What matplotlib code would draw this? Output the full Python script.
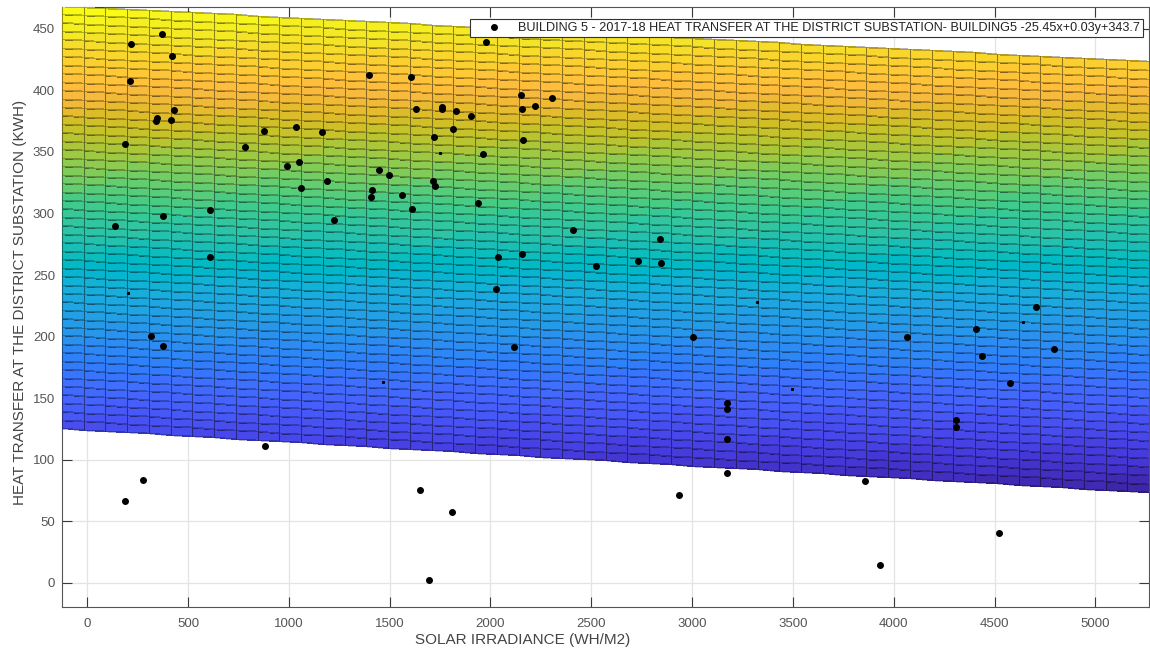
import numpy as np
import matplotlib
matplotlib.use("Agg")
import matplotlib.pyplot as plt
from matplotlib.colors import ListedColormap, Normalize
from matplotlib.lines import Line2D

# ---------------- data ----------------
solar = [217, 371, 419, 210, 430, 346, 342, 415, 188, 782, 877, 1035, 1163, 1048, 989,
         1187, 1060, 1397, 1447, 1496, 1414, 1407, 1225, 607, 376, 138, 607, 316, 377,
         187, 277, 880,
         1977, 1606, 2150, 2303, 1629, 1761, 1761, 1829, 2158, 2221, 1902, 1814, 1720,
         2160, 1964, 1713, 1725, 1559, 1940, 1609,
         2411, 2839, 2037, 2156, 2525, 2730, 2846, 2026, 3004, 2117, 3175, 3175, 3175, 3175,
         4707, 4408, 4064, 4436, 4793, 4578, 4309, 4309,
         1650, 1807, 1696, 2933, 3857, 3930, 4521]
heat = [437.7, 445.8, 428.0, 407.4, 384.3, 377.9, 375.1, 375.7, 356.7, 354.0, 366.8, 370.0,
        366.5, 341.8, 338.6, 326.6, 320.5, 412.8, 335.6, 331.3, 319.1, 313.6, 295.0, 303.1,
        297.7, 289.6, 264.6, 200.7, 192.6, 66.3, 83.7, 111.3,
        439.5, 411.2, 396.3, 394.2, 384.9, 386.3, 384.6, 383.5, 384.6, 387.1, 379.2, 368.6,
        362.4, 359.7, 348.1, 326.2, 322.3, 315.3, 308.3, 303.3,
        286.6, 279.3, 264.4, 266.8, 257.6, 261.6, 260.0, 238.4, 199.6, 191.8, 145.8, 141.4,
        116.8, 89.4,
        224.3, 206.1, 199.4, 184.5, 189.9, 162.5, 132.0, 126.8,
        75.3, 57.7, 2.2, 71.3, 82.6, 14.1, 40.4]
# points mostly hidden under the fitted surface (only a speck visible)
partial_solar = [200, 1749, 1465, 3497, 3322, 4641]
partial_heat = [235.6, 349.4, 162.8, 157.0, 228.1, 211.8]

# fitted surface band (edges as seen in the view)
band_x = [-125, 5266]
band_bottom = [125.5, 73.3]
band_top = [469.0, 423.6]
n_cols, n_rows = 50, 50

x_ticks = list(range(0, 5001, 500))
y_ticks = list(range(0, 451, 50))
legend_label = "BUILDING 5 - 2017-18 HEAT TRANSFER AT THE DISTRICT SUBSTATION- BUILDING5 -25.45x+0.03y+343.7"
xlabel = "SOLAR IRRADIANCE (WH/M2)"
ylabel = "HEAT TRANSFER AT THE DISTRICT SUBSTATION (KWH)"

parula_data = [
    [0.2422, 0.1504, 0.6603], [0.2504, 0.1650, 0.7076], [0.2578, 0.1818, 0.7511],
    [0.2647, 0.1978, 0.7952], [0.2706, 0.2147, 0.8364], [0.2751, 0.2342, 0.8710],
    [0.2783, 0.2559, 0.8991], [0.2803, 0.2782, 0.9221], [0.2813, 0.3006, 0.9414],
    [0.2810, 0.3228, 0.9579], [0.2795, 0.3447, 0.9717], [0.2760, 0.3667, 0.9829],
    [0.2699, 0.3892, 0.9906], [0.2602, 0.4123, 0.9952], [0.2440, 0.4358, 0.9988],
    [0.2206, 0.4603, 0.9973], [0.1963, 0.4847, 0.9892], [0.1834, 0.5074, 0.9798],
    [0.1786, 0.5289, 0.9682], [0.1764, 0.5499, 0.9520], [0.1687, 0.5703, 0.9359],
    [0.1540, 0.5902, 0.9218], [0.1460, 0.6091, 0.9079], [0.1380, 0.6276, 0.8973],
    [0.1248, 0.6459, 0.8883], [0.1113, 0.6635, 0.8763], [0.0952, 0.6798, 0.8598],
    [0.0689, 0.6948, 0.8394], [0.0297, 0.7082, 0.8163], [0.0036, 0.7203, 0.7917],
    [0.0067, 0.7312, 0.7660], [0.0433, 0.7411, 0.7394], [0.0964, 0.7500, 0.7120],
    [0.1408, 0.7584, 0.6842], [0.1717, 0.7670, 0.6554], [0.1938, 0.7758, 0.6251],
    [0.2161, 0.7843, 0.5923], [0.2470, 0.7918, 0.5567], [0.2906, 0.7973, 0.5188],
    [0.3406, 0.8008, 0.4789], [0.3909, 0.8029, 0.4354], [0.4456, 0.8024, 0.3909],
    [0.5044, 0.7993, 0.3480], [0.5616, 0.7942, 0.3045], [0.6174, 0.7876, 0.2612],
    [0.6720, 0.7793, 0.2227], [0.7242, 0.7698, 0.1910], [0.7738, 0.7598, 0.1646],
    [0.8203, 0.7498, 0.1535], [0.8634, 0.7406, 0.1596], [0.9035, 0.7330, 0.1774],
    [0.9393, 0.7288, 0.2100], [0.9728, 0.7298, 0.2394], [0.9956, 0.7434, 0.2371],
    [0.9970, 0.7659, 0.2199], [0.9952, 0.7893, 0.2028], [0.9892, 0.8136, 0.1885],
    [0.9786, 0.8386, 0.1766], [0.9676, 0.8639, 0.1643], [0.9610, 0.8890, 0.1537],
    [0.9597, 0.9135, 0.1423], [0.9628, 0.9373, 0.1265], [0.9691, 0.9606, 0.1064],
    [0.9769, 0.9839, 0.0805]]
parula = ListedColormap(parula_data, name="parula")

# ---------------- figure ----------------
plt.rcParams['font.family'] = ['Liberation Sans', 'DejaVu Sans']
W, H = 1150, 655
fig = plt.figure(figsize=(W / 100, H / 100), dpi=100)
ax_l, ax_r, ax_t, ax_b = 62, 1149, 6.5, 606.7
ax = fig.add_axes([ax_l / W, 1 - ax_b / H, (ax_r - ax_l) / W, (ax_b - ax_t) / H])

ax.set_xlim(band_x[0], band_x[1])
ax.set_ylim(-19.5, 468.2)

# surface mesh
xe = np.linspace(band_x[0], band_x[1], n_cols + 1)
bot = np.interp(xe, band_x, band_bottom)
top = np.interp(xe, band_x, band_top)
t = np.linspace(0, 1, n_rows + 1)
X = np.tile(xe, (n_rows + 1, 1))
Y = bot[None, :] + t[:, None] * (top - bot)[None, :]
C = 0.25 * (Y[:-1, :-1] + Y[1:, :-1] + Y[:-1, 1:] + Y[1:, 1:])
ax.pcolormesh(X, Y, C, cmap=parula, norm=Normalize(vmin=73, vmax=469),
              edgecolors=(0, 0, 0, 0.28), linewidth=0.55, zorder=1, shading='flat')
# slightly darker vertical mesh lines, as in the reference
for i in range(n_cols + 1):
    ax.plot([xe[i], xe[i]], [bot[i], top[i]], color=(0, 0, 0, 0.22), linewidth=0.8,
            zorder=1.5)

# scatter points
ax.plot(solar, heat, linestyle='none', marker='o', markersize=4.0,
        color='black', zorder=3)
ax.plot(partial_solar, partial_heat, linestyle='none', marker='s', markersize=1.2,
        color='black', zorder=3)

# axes styling
ax.set_xticks(x_ticks)
ax.set_yticks(y_ticks)
ax.set_axisbelow(True)
ax.grid(True, color='#e3e3e3', linewidth=0.9)
ax.tick_params(direction='in', length=7, width=0.8, colors='#3a3a3a',
               labelcolor='#555555', labelsize=9.5, top=True, right=True)
ax.tick_params(axis='x', pad=8)
ax.tick_params(axis='y', pad=5)
for s in ax.spines.values():
    s.set_color('#555555')
    s.set_linewidth(0.8)
    s.set_zorder(0.6)

ax.set_xlabel(xlabel, fontsize=11, color='#444444')
ax.set_ylabel(ylabel, fontsize=11, color='#444444')
ax.xaxis.set_label_coords((523 - ax_l) / (ax_r - ax_l), -(640 - ax_b) / (ax_b - ax_t))
ax.xaxis.label.set_va('center')
ax.yaxis.set_label_coords((20 - ax_l) / (ax_r - ax_l), (ax_b - 302) / (ax_b - ax_t))
ax.yaxis.label.set_va('center')

handle = Line2D([], [], linestyle='none', marker='o', markersize=4.0, color='black')
leg = ax.legend([handle], [legend_label], loc='upper right',
                bbox_to_anchor=(1143 / W, 1 - 19 / H), bbox_transform=fig.transFigure,
                fontsize=9.05, frameon=True, fancybox=False, framealpha=1,
                edgecolor='#333333', borderpad=0.25, handlelength=3.3,
                handletextpad=0.25, borderaxespad=0)
leg.get_frame().set_linewidth(0.8)
for txt in leg.get_texts():
    txt.set_color('#222222')
leg.set_zorder(5)

fig.savefig("out.png", dpi=100)
